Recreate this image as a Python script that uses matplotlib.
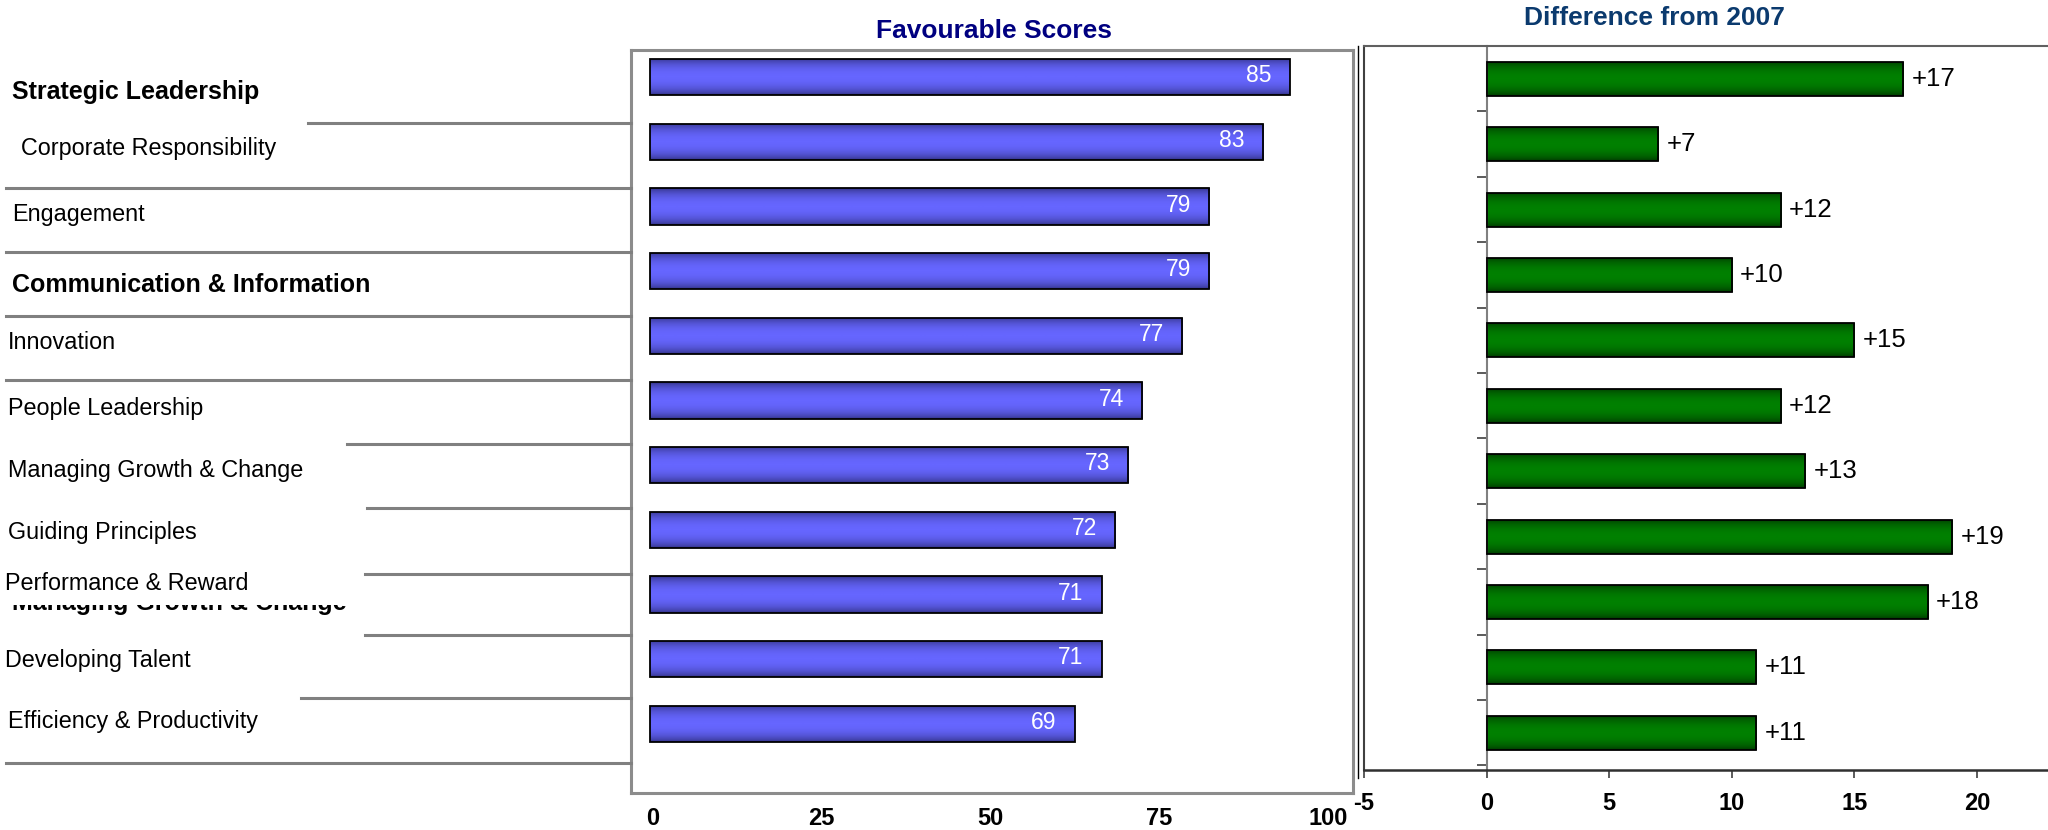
import numpy as np
import matplotlib
matplotlib.use("Agg")
import matplotlib.pyplot as plt
from matplotlib import font_manager as fm
from matplotlib.colors import LinearSegmentedColormap
from matplotlib.patches import Rectangle
from matplotlib.lines import Line2D

# ---------------- data ----------------
categories = ["Strategic Leadership", "Corporate Responsibility", "Engagement",
              "Communication & Information", "Innovation", "People Leadership",
              "Managing Growth & Change", "Guiding Principles", "Performance & Reward",
              "Developing Talent", "Efficiency & Productivity"]
bold_categories = ["Strategic Leadership", "Communication & Information"]
favourable = [85, 83, 79, 79, 77, 74, 73, 72, 71, 71, 69]
difference = [17, 7, 12, 10, 15, 12, 13, 19, 18, 11, 11]
fav_ticks = [0, 25, 50, 75, 100]
diff_ticks = [-5, 0, 5, 10, 15, 20]
left_title = "Favourable Scores"
right_title = "Difference from 2007"
leftover_label = "Managing Growth & Change"

# ---------------- fonts ----------------
def has_font(name):
    try:
        fm.findfont(fm.FontProperties(family=name), fallback_to_default=False)
        return True
    except Exception:
        return False

REG = "Liberation Sans" if has_font("Liberation Sans") else "DejaVu Sans"
if has_font("Liberation Sans Narrow"):
    NARROW, NSCALE = "Liberation Sans Narrow", 1.0
else:
    NARROW, NSCALE = REG, 0.84

W, H = 2048, 830
fig = plt.figure(figsize=(W / 100, H / 100), dpi=100)
fig.patch.set_facecolor("white")

def fx(x):
    return x / W

def fy(y):
    return 1 - y / H

def gradient_bars(ax, patches, dark, light, power=0.55):
    cmap = LinearSegmentedColormap.from_list("g", [dark, light])
    t = np.linspace(0, 1, 64)
    prof = np.sin(np.pi * t) ** power
    grad = prof[:, None]
    for p in patches:
        x0, y0 = p.get_x(), p.get_y()
        w, h = p.get_width(), p.get_height()
        im = ax.imshow(grad, extent=[x0, x0 + w, y0 + h, y0], cmap=cmap,
                       vmin=0, vmax=1, aspect="auto", interpolation="bilinear",
                       zorder=2)
        im.set_clip_path(p)

n = len(categories)
ypos = np.arange(n)

# ---------------- left panel ----------------
ax1 = fig.add_axes([fx(631), fy(793), fx(1353 - 631), (793 - 50) / H])
ax1.set_xlim(-3.26, 103.7)
ax1.set_ylim(11.07, -0.42)
ax1.set_xticks(fav_ticks)
ax1.set_xticklabels([str(t) for t in fav_ticks], fontsize=17, fontweight="bold",
                    family=REG)
ax1.tick_params(axis="x", length=0, pad=10)
ax1.set_yticks([])
for s in ax1.spines.values():
    s.set_color("#8c8c8c")
    s.set_linewidth(2.2)

axb = ax1.twiny()
bar_base = 37.4
axb.set_xlim(36.0, 89.7)
axb.set_xticks([])
for s in axb.spines.values():
    s.set_visible(False)
bars1 = axb.barh(ypos, [v - bar_base for v in favourable], left=bar_base,
                 height=0.56, facecolor="none", edgecolor="black", linewidth=1.3,
                 zorder=3)
gradient_bars(axb, bars1, "#2c2c78", "#6666ff")
val_size = 18 if NSCALE == 1.0 else 16.5
for i, v in enumerate(favourable):
    axb.annotate(str(v), xy=(v, i), xytext=(-13, 1), textcoords="offset points",
                 ha="right", va="center", color="white",
                 fontsize=val_size, family=NARROW, zorder=4)
axb.set_xlim(36.0, 89.7)
axb.set_ylim(11.07, -0.42)

# ---------------- right panel ----------------
ax2 = fig.add_axes([fx(1364), fy(770), fx(2048 - 1364), (770 - 46) / H])
bars2 = ax2.barh(ypos, difference, left=0, height=0.52, facecolor="none",
                 edgecolor="black", linewidth=1.3, zorder=3)
gradient_bars(ax2, bars2, "#003000", "#008000")
for i, d in enumerate(difference):
    ax2.annotate(f"+{d}", xy=(d, i), xytext=(6, 0), textcoords="offset points",
                 ha="left", va="center", color="black", fontsize=18.5, family=REG,
                 zorder=4)
ax2.set_xlim(-5, 22.9)
ax2.set_ylim(10.57, -0.5)
ax2.spines["left"].set_position(("data", 0))
ax2.spines["left"].set_color("#808080")
ax2.spines["left"].set_linewidth(1.5)
ax2.spines["right"].set_visible(False)
ax2.spines["top"].set_color("#606060")
ax2.spines["top"].set_linewidth(1.5)
ax2.spines["bottom"].set_color("#303030")
ax2.spines["bottom"].set_linewidth(1.8)
ax2.set_yticks(np.arange(-0.5, n, 1.0))
ax2.set_yticklabels([])
ax2.tick_params(axis="y", direction="out", length=7, width=1.2, color="#404040")
ax2.set_xticks(diff_ticks)
ax2.set_xticklabels([str(t) for t in diff_ticks], fontsize=17, fontweight="bold",
                    family=REG)
ax2.tick_params(axis="x", direction="out", length=6, width=1.2, color="#404040",
                pad=10)
ax2.add_line(Line2D([0, 0], [0, 1], transform=ax2.transAxes, color="#404040",
                    lw=1.5, clip_on=False))

# thin separator line between panels
fig.add_artist(Line2D([fx(1358), fx(1358)], [fy(46), fy(778)], color="black", lw=1))

# ---------------- titles ----------------
fig.text(fx(994), fy(31), left_title, ha="center", va="center", fontsize=19,
         fontweight="bold", color="#000080", family=REG)
fig.text(fx(1654), fy(18), right_title, ha="center", va="center", fontsize=19,
         fontweight="bold", color="#0b3a6e", family=REG)

# ---------------- category labels & row lines ----------------
line_y = [123, 188, 252, 316, 380, 444, 508, 574, 635, 698, 763]
line_x0 = [308, 6, 6, 6, 6, 347, 367, 365, 365, 301, 6]
for y, x0 in zip(line_y, line_x0):
    fig.add_artist(Line2D([fx(x0), fx(631)], [fy(y), fy(y)], color="#808080", lw=2.2))

label_x = [12, 21, 12, 12, 8, 8, 8, 8, 5, 5, 8]
label_y = [92, 149, 215, 285, 342, 408, 470, 532, 584, 660, 721]

# partly hidden leftover label behind "Performance & Reward"
fig.text(fx(12), fy(603), leftover_label, ha="left", va="center",
         fontsize=18, fontweight="bold", family=REG, zorder=1)
fig.add_artist(Rectangle((0, fy(605)), fx(360), (605 - 560) / H,
                         transform=fig.transFigure, facecolor="white",
                         edgecolor="none", zorder=2))

for name, x, y in zip(categories, label_x, label_y):
    if name in bold_categories:
        fig.text(fx(x), fy(y), name, ha="left", va="center", fontsize=18,
                 fontweight="bold", family=REG, zorder=3)
    else:
        fig.text(fx(x), fy(y), name, ha="left", va="center", fontsize=20 * NSCALE,
                 family=NARROW, zorder=3)

fig.savefig("out.png", dpi=100, facecolor="white")
